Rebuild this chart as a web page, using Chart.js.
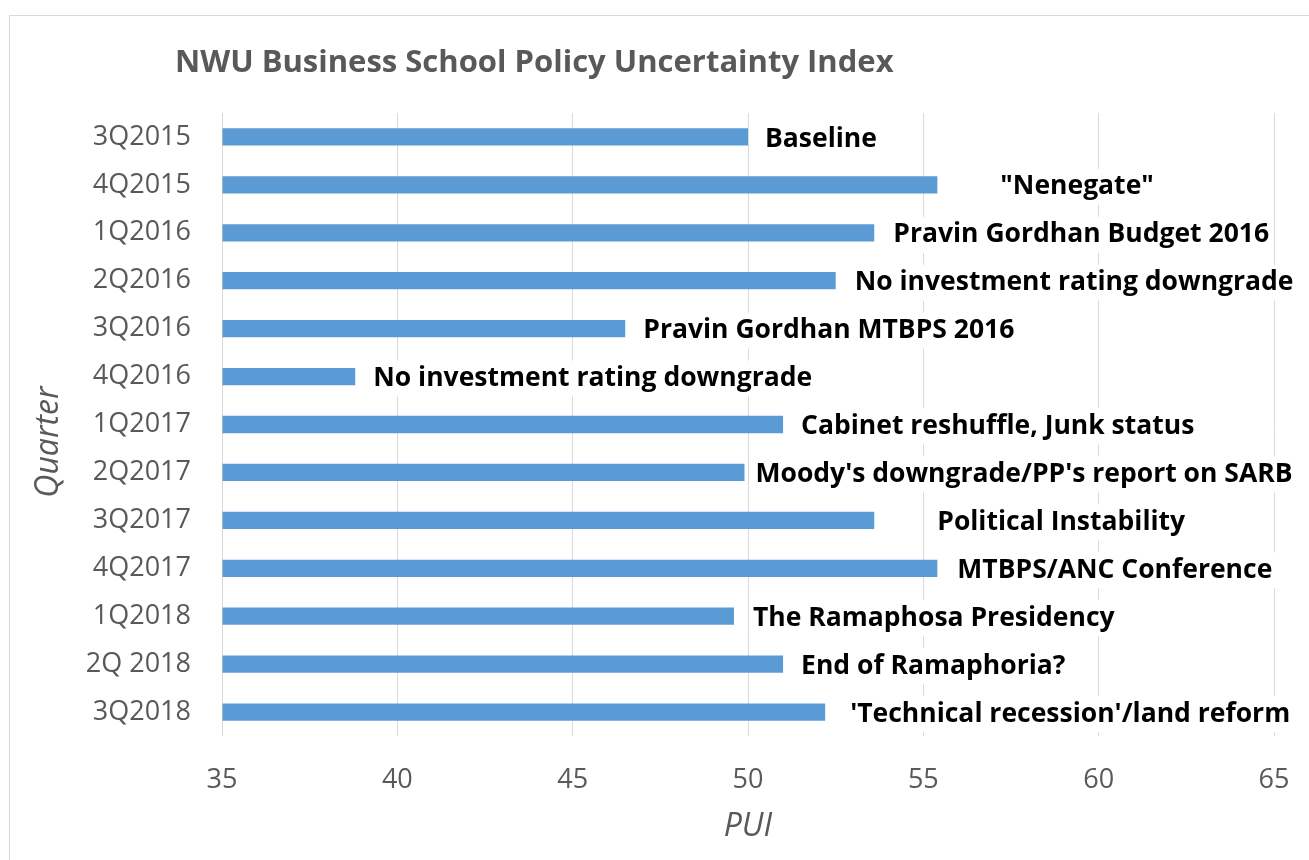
<!DOCTYPE html>
<html>
<head>
<meta charset="utf-8">
<script src="https://cdn.jsdelivr.net/npm/chart.js@4"></script>
<style>
  html, body { margin: 0; padding: 0; background: #fff; overflow: hidden; }
  #wrap { position: relative; width: 1309px; height: 860px; }
  canvas { display: block; }
</style>
</head>
<body>
<div id="wrap"><canvas id="puiChart" width="1309" height="860"></canvas></div>
<script>
const quarters = ['3Q2015', '4Q2015', '1Q2016', '2Q2016', '3Q2016', '4Q2016', '1Q2017',
    '2Q2017', '3Q2017', '4Q2017', '1Q2018', '2Q 2018', '3Q2018'];
const puiValues = [50.0, 55.4, 53.6, 52.5, 46.5, 38.8, 51.0, 49.9, 53.6, 55.4, 49.6, 51.0, 52.2];
const eventLabels = ['Baseline', '"Nenegate"', 'Pravin Gordhan Budget 2016',
    'No investment rating downgrade', 'Pravin Gordhan MTBPS 2016', 'No investment rating downgrade',
    'Cabinet reshuffle, Junk status', "Moody's downgrade/PP's report on SARB", 'Political Instability',
    'MTBPS/ANC Conference', 'The Ramaphosa Presidency', 'End of Ramaphoria?',
    "'Technical recession'/land reform"];
const xTicks = [35, 40, 45, 50, 55, 60, 65];

const FONT = "'Open Sans', sans-serif";
const GREY = '#595959';

// frame, title and the 'Quarter' axis title, like the excel chart box
const frameAndTitle = {
    id: 'frameAndTitle',
    beforeDraw(chart) {
        const ctx = chart.ctx;
        ctx.save();
        ctx.fillStyle = '#fff';
        ctx.fillRect(0, 0, chart.width, chart.height);
        ctx.strokeStyle = '#d9d9d9';
        ctx.lineWidth = 1;
        ctx.strokeRect(9.5, 15.5, chart.width + 20, chart.height + 20);
        ctx.restore();
    },
    afterDraw(chart) {
        const ctx = chart.ctx;
        ctx.save();
        ctx.font = 'bold 31px ' + FONT;
        ctx.fillStyle = GREY;
        ctx.textBaseline = 'middle';
        ctx.fillText('NWU Business School Policy Uncertainty Index', 175, 63);

        // y axis title sits a bit below the plot centre in the original
        ctx.translate(49, 442);
        ctx.rotate(-Math.PI / 2);
        ctx.font = 'italic 32px ' + FONT;
        ctx.textAlign = 'center';
        ctx.fillText('Quarter', 0, 0);
        ctx.restore();
    }
};

// event labels next to each bar, on white boxes
const eventLabelPlugin = {
    id: 'eventLabels',
    afterDatasetsDraw(chart, args, opts) {
        const ctx = chart.ctx;
        const bars = chart.getDatasetMeta(0).data;
        ctx.save();
        ctx.font = 'bold 26.5px ' + FONT;
        ctx.textBaseline = 'middle';
        bars.forEach((bar, i) => {
            const x = bar.x + (opts.nudge[i] || 18);
            const y = bar.y + 2;
            const w = ctx.measureText(eventLabels[i]).width;
            ctx.fillStyle = '#fff';
            ctx.fillRect(x - 4, y - 18, w + 8, 36);
            ctx.fillStyle = '#000';
            ctx.fillText(eventLabels[i], x, y);
        });
        ctx.restore();
    }
};

const ctx = document.getElementById('puiChart').getContext('2d');
new Chart(ctx, {
    type: 'bar',
    data: {
        labels: quarters,
        datasets: [{
            label: 'PUI',
            data: puiValues,
            backgroundColor: '#5b9bd5',
            categoryPercentage: 1,
            barPercentage: 0.36,
            base: 35
        }]
    },
    plugins: [frameAndTitle, eventLabelPlugin],
    options: {
        indexAxis: 'y',
        responsive: false,
        animation: false,
        layout: { padding: { top: 113, right: 35, left: 10, bottom: 10 } },
        plugins: {
            legend: { display: false },
            tooltip: { enabled: false },
            eventLabels: { nudge: [17, 63, 19, 19, 18, 18, 18, 11, 63, 20, 19, 18, 25] }
        },
        scales: {
            x: {
                min: 35,
                max: 65,
                afterBuildTicks(scale) {
                    scale.ticks = xTicks.map(v => ({ value: v }));
                },
                grid: { color: '#d9d9d9', drawTicks: false },
                border: { display: false },
                ticks: { color: GREY, font: { family: FONT, size: 27 }, padding: 28 },
                title: {
                    display: true, text: 'PUI', color: GREY,
                    font: { family: FONT, size: 32, style: 'italic' },
                    padding: { top: 6 }
                },
                afterFit(scale) {
                    scale.height = 851 - 737;
                    scale.paddingRight = 0;
                }
            },
            y: {
                grid: { display: false, drawTicks: false },
                border: { display: false },
                ticks: { color: GREY, font: { family: FONT, size: 27 }, padding: 31 },
                afterFit(scale) { scale.width = 222 - 10; }
            }
        }
    }
});
</script>
</body>
</html>
